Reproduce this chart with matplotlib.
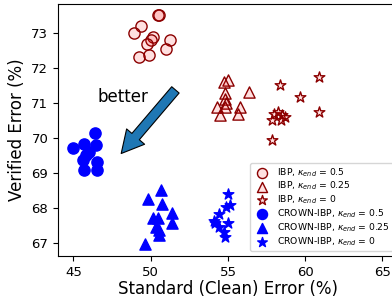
import matplotlib
matplotlib.use("Agg")
import matplotlib.pyplot as plt

# IBP runs (red, hollow-ish markers)
ibp_05_x = [50.45, 50.56, 49.38, 48.95, 50.13, 50.03, 49.74, 51.24, 51.00, 49.24, 49.92]
ibp_05_y = [73.50, 73.50, 73.20, 72.99, 72.88, 72.80, 72.68, 72.80, 72.53, 72.32, 72.36]
ibp_025_x = [55.03, 54.77, 56.38, 54.81, 54.83, 54.86, 54.31, 54.83, 55.77, 54.51, 55.63]
ibp_025_y = [71.65, 71.59, 71.31, 71.28, 71.11, 70.99, 70.89, 70.87, 70.89, 70.65, 70.67]
ibp_0_x = [60.91, 58.37, 59.66, 60.87, 58.00, 58.52, 58.71, 57.87, 58.42, 58.26, 57.85]
ibp_0_y = [71.75, 71.51, 71.17, 70.73, 70.68, 70.65, 70.59, 70.51, 70.51, 70.74, 69.93]

# CROWN-IBP runs (blue, filled)
crown_05_x = [46.42, 44.95, 45.71, 46.47, 45.99, 45.60, 46.51, 45.71, 46.51, 45.78]
crown_05_y = [70.13, 69.70, 69.82, 69.79, 69.60, 69.36, 69.31, 69.09, 69.07, 69.50]
crown_025_x = [50.67, 49.85, 50.71, 51.36, 50.13, 50.50, 51.36, 50.35, 50.56, 50.56, 49.64]
crown_025_y = [68.50, 68.24, 68.12, 67.86, 67.71, 67.71, 67.55, 67.45, 67.36, 67.21, 66.97]
crown_0_x = [54.98, 55.16, 54.87, 54.44, 54.08, 55.03, 54.44, 54.72, 54.81, 54.18]
crown_0_y = [68.39, 68.07, 68.02, 67.83, 67.62, 67.55, 67.45, 67.31, 67.16, 67.56]

fig = plt.figure(figsize=(3.92, 2.99), dpi=100)
ax = fig.add_axes([0.148, 0.144, 0.867, 0.843])

pink = (1.0, 0.0, 0.0, 0.12)
s = 65
ax.scatter(ibp_05_x, ibp_05_y, s=s, marker='o', facecolors=pink, edgecolors='darkred',
           linewidths=1.0, label=r'IBP, $\kappa_{end}$ = 0.5')
ax.scatter(ibp_025_x, ibp_025_y, s=s, marker='^', facecolors=pink, edgecolors='darkred',
           linewidths=1.0, label=r'IBP, $\kappa_{end}$ = 0.25')
ax.scatter(ibp_0_x, ibp_0_y, s=s, marker='*', facecolors=pink, edgecolors='darkred',
           linewidths=1.0, label=r'IBP, $\kappa_{end}$ = 0')
ax.scatter(crown_05_x, crown_05_y, s=s, marker='o', color='blue',
           label=r'CROWN-IBP, $\kappa_{end}$ = 0.5')
ax.scatter(crown_025_x, crown_025_y, s=s, marker='^', color='blue',
           label=r'CROWN-IBP, $\kappa_{end}$ = 0.25')
ax.scatter(crown_0_x, crown_0_y, s=s, marker='*', color='blue',
           label=r'CROWN-IBP, $\kappa_{end}$ = 0')

# "better" arrow
ax.annotate('', xy=(48.09, 69.55), xytext=(51.6, 71.37),
            arrowprops=dict(arrowstyle='simple,head_width=1.7,head_length=1.6,tail_width=0.7',
                            mutation_scale=10, fc='#1f77b4', ec='black', lw=0.8,
                            shrinkA=0, shrinkB=0))
ax.text(48.22, 71.16, 'better', fontsize=12, ha='center', va='center')

ax.set_xlim(44, 66)
ax.set_ylim(66.62, 73.83)
ax.set_xticks([45, 50, 55, 60, 65])
ax.set_yticks([67, 68, 69, 70, 71, 72, 73])
ax.tick_params(labelsize=9.5)
ax.set_xlabel('Standard (Clean) Error (%)', fontsize=12, labelpad=1)
ax.set_ylabel('Verified Error (%)', fontsize=12)
ax.legend(loc='lower right', fontsize=6.7, labelspacing=0.15, borderpad=0.35,
          handletextpad=0.6, markerscale=0.9)

fig.savefig('out.png', dpi=100)
